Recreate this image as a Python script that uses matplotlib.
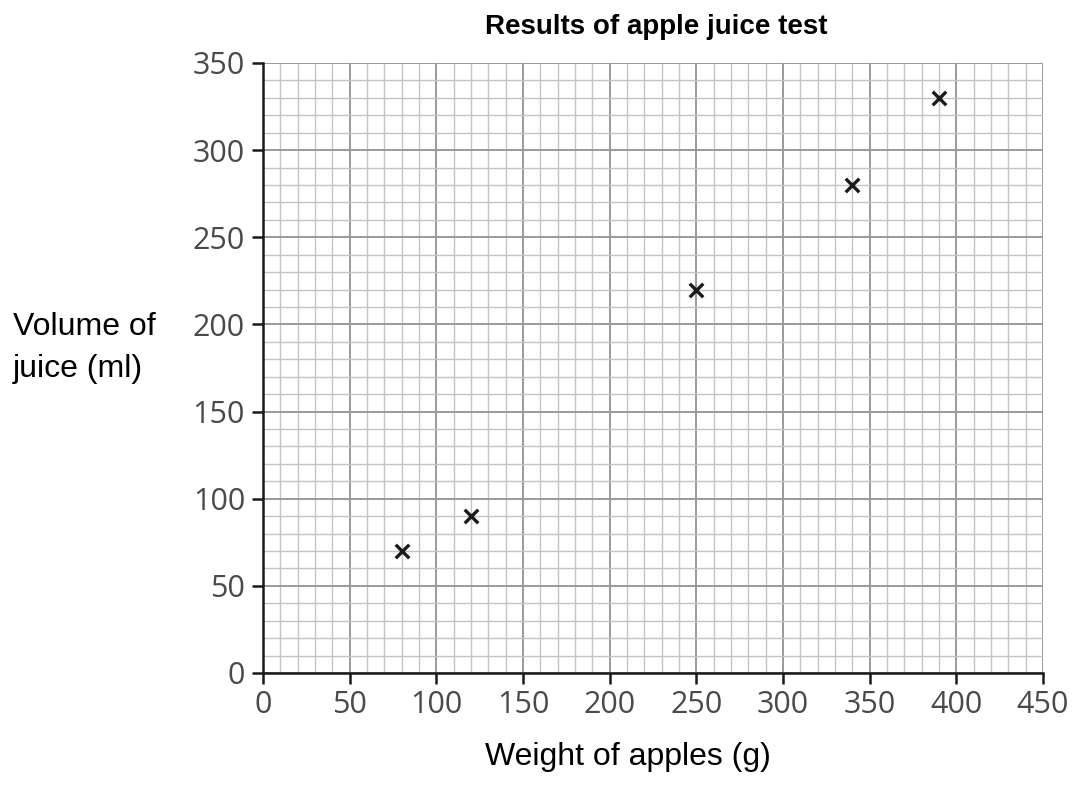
import numpy as np
import matplotlib.pyplot as plt
from matplotlib.ticker import MultipleLocator

weight = [80, 120, 250, 340, 390]
volume = [70, 90, 220, 280, 330]

x_ticks = [0, 50, 100, 150, 200, 250, 300, 350, 400, 450]
y_ticks = [0, 50, 100, 150, 200, 250, 300, 350]

plt.rcParams['font.family'] = ['Liberation Sans', 'DejaVu Sans']

fig = plt.figure(figsize=(10.77, 7.85), dpi=100)
ax = fig.add_axes([263 / 1077, 1 - 673 / 785, 780 / 1077, 610 / 785])

ax.set_xlim(0, 450)
ax.set_ylim(0, 350)
ax.xaxis.set_minor_locator(MultipleLocator(10))
ax.yaxis.set_minor_locator(MultipleLocator(10))
ax.set_xticks(x_ticks)
ax.set_yticks(y_ticks)
ax.grid(which='minor', color='#c4c4c4', linewidth=1.0)
ax.grid(which='major', color='#9a9a9a', linewidth=1.4)
ax.set_axisbelow(True)

ax.tick_params(which='minor', length=0)
ax.tick_params(axis='x', which='major', direction='out', length=8, width=1.8, color='#1a1a1a', pad=4)
ax.tick_params(axis='y', which='major', direction='out', length=8, width=1.8, color='#1a1a1a', pad=5)
for lab in ax.get_xticklabels() + ax.get_yticklabels():
    lab.set_fontfamily(['Open Sans', 'DejaVu Sans'])
    lab.set_fontsize(22)
    lab.set_color('#4a4a4a')

for s in ['top', 'right']:
    ax.spines[s].set_visible(False)
for s in ['left', 'bottom']:
    ax.spines[s].set_linewidth(1.8)
    ax.spines[s].set_color('#1a1a1a')

ax.scatter(weight, volume, marker='x', s=95, color='#1a1a1a', linewidths=2.4, zorder=3)

fig.text(656 / 1077, 1 - 27 / 785, 'Results of apple juice test', ha='center', va='center',
         fontsize=20, fontweight='bold')
fig.text(628 / 1077, 1 - 757 / 785, 'Weight of apples (g)', ha='center', va='center', fontsize=23)
fig.text(13 / 1077, 1 - 348 / 785, 'Volume of\njuice (ml)', ha='left', va='center',
         fontsize=23, linespacing=1.5)

fig.savefig('out.png', dpi=100)
